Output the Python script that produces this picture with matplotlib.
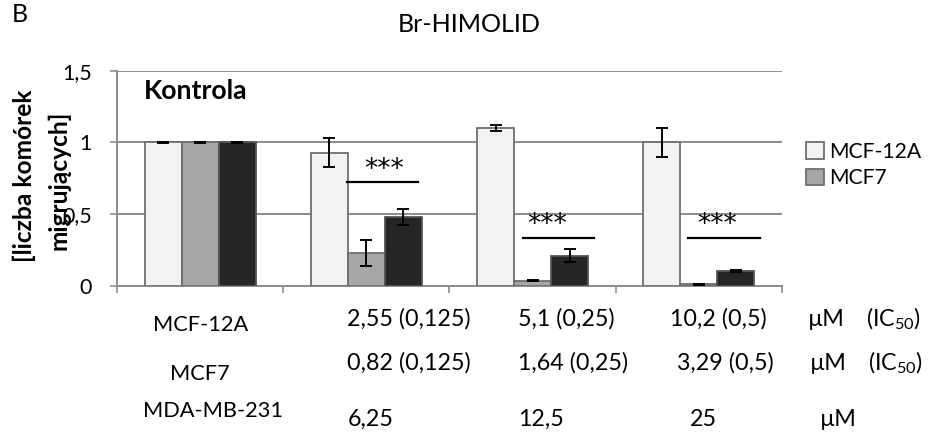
import matplotlib.pyplot as plt
import numpy as np

plt.rcParams['font.family'] = ['Lato', 'DejaVu Sans']
plt.rcParams['mathtext.default'] = 'regular'

groups = ['Kontrola', 'D1', 'D2', 'D3']
mcf12a = [1.0, 0.93, 1.10, 1.0]
mcf12a_err = [0.004, 0.10, 0.023, 0.10]
mcf7 = [1.0, 0.23, 0.037, 0.012]
mcf7_err = [0.004, 0.09, 0.005, 0.003]
mda = [1.0, 0.48, 0.21, 0.105]
mda_err = [0.004, 0.055, 0.046, 0.005]

# significance bars (data coords)
sig_x0 = [0.882, 1.940, 2.935]
sig_x1 = [1.309, 2.371, 3.368]
sig_y = [0.727, 0.333, 0.333]
star_x = [1.109, 2.086, 3.109]
star_y = [0.806, 0.424, 0.424]

row_names = ['MCF-12A', 'MCF7', 'MDA-MB-231']
row_doses = [['2,55 (0,125)', '5,1 (0,25)', '10,2 (0,5)'],
             ['0,82 (0,125)', '1,64 (0,25)', '3,29 (0,5)'],
             ['6,25', '12,5', '25']]
row_units = ['µM', 'µM', 'µM']
row_ic = ['(IC$_{50}$)', '(IC$_{50}$)', '']

W, H = 929, 437
fig = plt.figure(figsize=(W / 100, H / 100), dpi=100)
renderer = fig.canvas.get_renderer()


def fit_size(s, target_w, **kw):
    # font size giving the text a width of target_w pixels
    t = fig.text(0, 0, s, fontsize=10, **kw)
    w = t.get_window_extent(renderer).width
    t.remove()
    return 10 * target_w / w


def px(x, y):
    return x / W, 1 - y / H


ax = fig.add_axes([117 / W, 1 - 286 / H, (782 - 117) / W, (286 - 70.7) / H])

x = np.arange(len(groups))
bw = 0.223
ekw = dict(ecolor='black', elinewidth=1.4, capsize=4, capthick=1.4)
ax.bar(x - bw, mcf12a, bw, yerr=mcf12a_err, color='#f2f2f2', edgecolor='#6e6e6e',
       linewidth=1.3, label='MCF-12A', error_kw=ekw, zorder=3)
ax.bar(x, mcf7, bw, yerr=mcf7_err, color='#a6a6a6', edgecolor='#6e6e6e',
       linewidth=1.3, label='MCF7', error_kw=ekw, zorder=3)
ax.bar(x + bw, mda, bw, yerr=mda_err, color='#262626', edgecolor='#555555',
       linewidth=1.3, error_kw=ekw, zorder=3)

star_fs = fit_size('***', 40, family='DejaVu Sans')
for i in range(len(sig_y)):
    ax.plot([sig_x0[i], sig_x1[i]], [sig_y[i], sig_y[i]], color='black', lw=1.6, zorder=4)
    ax.text(star_x[i], star_y[i], '***', ha='center', va='center',
            fontsize=star_fs, family='DejaVu Sans')

kfs = fit_size('Kontrola', 104, fontweight='bold')
fig.text(*px(144, 91), 'Kontrola', fontsize=kfs, fontweight='bold', va='center')

tick_fs = fit_size('1,5', 30)
ax.set_xlim(-0.5, 3.5)
ax.set_ylim(0, 1.5)
ax.set_yticks([0, 0.5, 1, 1.5])
ax.set_yticklabels(['0', '0,5', '1', '1,5'], fontsize=tick_fs)
ax.set_xticks([-0.5, 0.5, 1.5, 2.5, 3.5])
ax.set_xticklabels([])
ax.tick_params(axis='both', direction='out', length=5, color='#8c8c8c', width=1.2)
ax.tick_params(axis='y', pad=13)
ax.yaxis.grid(True, color='#8c8c8c', lw=1.4, zorder=0)
ax.set_axisbelow(True)
for s in ['top', 'right']:
    ax.spines[s].set_visible(False)
for s in ['left', 'bottom']:
    ax.spines[s].set_color('#8c8c8c')
    ax.spines[s].set_linewidth(1.4)

# y label, two lines placed individually
yl_fs = fit_size('[liczba komórek', 173, fontweight='bold')
fig.text(*px(24, 176), '[liczba komórek', rotation=90, ha='center', va='center',
         fontsize=yl_fs, fontweight='bold')
fig.text(*px(59, 180), 'migrujących]', rotation=90, ha='center', va='center',
         fontsize=yl_fs, fontweight='bold')

leg_fs = fit_size('MCF-12A', 92)
box = 18 / (leg_fs * 100 / 72)
ax.legend(loc='upper left', bbox_to_anchor=px(806, 142),
          bbox_transform=fig.transFigure, frameon=False, fontsize=leg_fs,
          handlelength=box, handleheight=box, handletextpad=0.25,
          labelspacing=0.3, borderaxespad=0, borderpad=0)

title_fs = fit_size('Br-HIMOLID', 142)
fig.text(*px(469, 24), 'Br-HIMOLID', ha='center', va='center', fontsize=title_fs)
fig.text(*px(12, 14), 'B', ha='left', va='center', fontsize=title_fs)

name_fs = fit_size('MCF-12A', 95)
tab_fs = fit_size('2,55 (0,125)', 124)
name_x = [201, 200, 213]
name_y = [325, 374, 411]
dose_y = [319, 363, 419]
dose_x = [[347, 518, 670], [347, 518, 677], [348, 518, 690]]
unit_x = [808, 810, 820]
ic_x = [866, 868, 868]
for r in range(3):
    fig.text(*px(name_x[r], name_y[r]), row_names[r], ha='center', va='center',
             fontsize=name_fs)
    for c in range(3):
        fig.text(*px(dose_x[r][c], dose_y[r]), row_doses[r][c], ha='left', va='center',
                 fontsize=tab_fs)
    fig.text(*px(unit_x[r], dose_y[r]), row_units[r], ha='left', va='center',
             fontsize=tab_fs)
    if row_ic[r]:
        fig.text(*px(ic_x[r], dose_y[r]), row_ic[r], ha='left', va='center',
                 fontsize=tab_fs)

fig.savefig('out.png', dpi=100)
